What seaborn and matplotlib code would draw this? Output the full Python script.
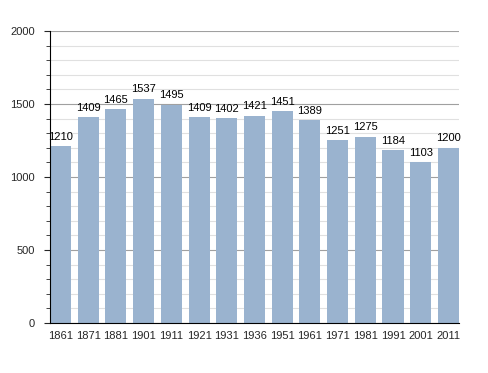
import matplotlib
matplotlib.use('agg')
import matplotlib.pyplot as plt
from matplotlib.ticker import MultipleLocator
import seaborn as sns
import pandas as pd

years = ["1861", "1871", "1881", "1901", "1911", "1921", "1931", "1936",
         "1951", "1961", "1971", "1981", "1991", "2001", "2011"]
population = [1210, 1409, 1465, 1537, 1495, 1409, 1402, 1421,
              1451, 1389, 1251, 1275, 1184, 1103, 1200]

df = pd.DataFrame({"year": years, "population": population})

sns.set_style("white")
plt.rcParams['font.family'] = ['Liberation Sans', 'DejaVu Sans']

fig = plt.figure(figsize=(4.88, 3.73), dpi=100)
ax = fig.add_axes([0.1025, 0.134, 0.838, 0.783])

bar_w = 0.76
sns.barplot(data=df, x="year", y="population", color="#9ab3cf",
            saturation=1, width=bar_w, ax=ax, linewidth=0, zorder=2)

# labels above bars
for i, v in enumerate(population):
    ax.text(i, v + 30, str(v), ha="center", va="bottom", fontsize=8, color="black")

ax.set_xlim(-bar_w / 2, len(years) - 1 + bar_w / 2)
ax.set_ylim(0, 2000)
ax.yaxis.set_major_locator(MultipleLocator(500))
ax.yaxis.set_minor_locator(MultipleLocator(100))

# grid behind bars
ax.set_axisbelow(True)
ax.grid(which="major", axis="y", color="#a0a0a0", linewidth=0.8)
ax.grid(which="minor", axis="y", color="#e0e0e0", linewidth=0.8)

for side in ["top", "right"]:
    ax.spines[side].set_visible(False)
ax.spines["left"].set_color("black")
ax.spines["left"].set_linewidth(0.8)
ax.spines["bottom"].set_color("black")
ax.spines["bottom"].set_linewidth(0.8)

ax.tick_params(axis="y", which="major", left=True, length=4, width=0.8, labelsize=8, pad=7)
ax.tick_params(axis="y", which="minor", left=True, length=3, width=0.6)
ax.tick_params(axis="x", bottom=False, labelsize=8, pad=2)
ax.set_xlabel("")
ax.set_ylabel("")

fig.savefig("out.png", dpi=100)
